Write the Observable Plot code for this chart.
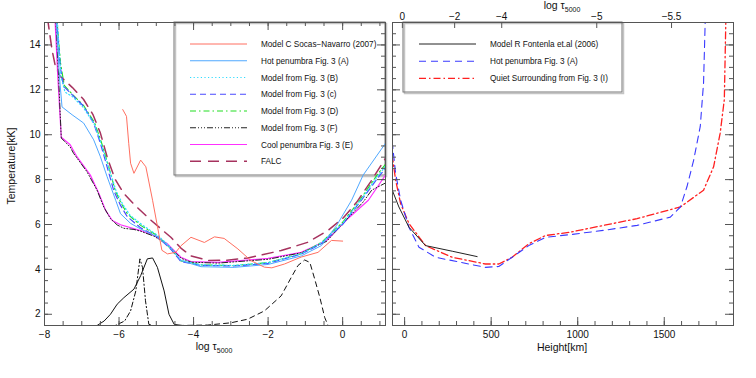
<!DOCTYPE html>
<html><head><meta charset="utf-8">
<script src="https://cdn.jsdelivr.net/npm/d3@7"></script>
<script src="https://cdn.jsdelivr.net/npm/@observablehq/plot@0.6"></script>
<style>
body{margin:0;background:#fff;font-family:"Liberation Sans",Arial,sans-serif}
#wrap{position:relative;width:756px;height:378px;overflow:hidden;background:#fff}
#wrap > svg{position:absolute;top:0}
</style></head><body><div id="wrap"></div>
<script>
// ---------- LEFT PANEL DATA (x = log tau5000, y = T [kK]) ----------
const socasX = [-5.90,-5.80,-5.74,-5.69,-5.60,-5.42,-5.28,-5.10,-4.85,-4.70,-4.48,-4.34,-4.07,-3.71,-3.44,-3.18,-2.81,-2.46,-2.10,-1.90,-1.56,-1.11,-0.66,-0.30,0.0];
const socasT = [11.12,10.82,9.62,8.73,8.28,8.87,8.57,7.08,4.85,4.69,4.76,5.05,5.43,5.20,5.45,5.38,4.91,4.39,4.10,4.07,4.24,4.55,4.76,5.29,5.26];

const hotAX = [-7.69,-7.60,-7.53,-7.26,-6.95,-6.68,-6.50,-6.32,-6.09,-5.96,-5.69,-5.42,-4.97,-4.61,-4.34,-3.80,-2.91,-2.0,-1.11,-0.57,-0.16,0.24,0.55,1.18];
const hotAT = [15.2,12.6,11.24,10.89,10.52,9.77,9.02,8.13,7.08,6.48,6.05,5.80,5.45,4.95,4.39,4.12,4.09,4.22,4.60,5.06,5.96,7.08,8.20,9.69];

const modBX = [-7.66,-7.56,-7.45,-7.25,-6.95,-6.66,-6.48,-6.28,-6.08,-5.90,-5.70,-5.35,-4.95,-4.60,-4.34,-3.80,-2.91,-2.0,-1.11,-0.57,0.0,0.48,0.96,1.18];
const modBT = [15.2,12.6,11.9,11.7,11.2,10.45,9.6,8.55,7.5,6.9,6.4,5.95,5.5,4.95,4.4,4.2,4.18,4.3,4.7,5.18,6.05,7.08,8.2,8.65];

const modCX = [-7.68,-7.58,-7.49,-7.31,-6.95,-6.68,-6.50,-6.32,-6.14,-5.96,-5.78,-5.42,-4.97,-4.61,-4.34,-3.80,-2.91,-2.0,-1.11,-0.57,0.0,0.5,1.0,1.18];
const modCT = [15.2,13.06,12.16,11.87,11.27,10.52,9.62,8.57,7.5,6.85,6.35,5.85,5.45,4.9,4.35,4.18,4.15,4.27,4.68,5.15,6.0,7.08,8.2,8.55];

const modDX = [-7.67,-7.57,-7.47,-7.28,-6.95,-6.66,-6.48,-6.28,-6.10,-5.96,-5.78,-5.42,-4.97,-4.61,-4.34,-3.80,-2.91,-2.0,-1.11,-0.57,0.0,0.46,0.92,1.18];
const modDT = [15.2,13.2,12.2,11.85,11.3,10.55,9.7,8.6,7.5,7.0,6.48,5.96,5.5,4.92,4.38,4.2,4.17,4.3,4.7,5.2,6.1,7.08,8.2,8.75];

const modFX = [-7.70,-7.62,-7.55,-7.31,-7.22,-6.86,-6.59,-6.41,-6.23,-6.05,-5.87,-5.60,-5.42,-5.06,-4.70,-4.34,-4.07,-3.35,-2.0,-1.11,-0.43,0.15,0.55,0.78,1.15];
const modFT = [15.2,12.5,9.85,9.45,9.17,8.35,7.53,6.78,6.26,5.98,5.83,5.78,5.70,5.48,5.10,4.50,4.32,4.28,4.45,4.74,5.25,6.30,7.00,7.53,7.85];

const coolEX = [-7.72,-7.64,-7.55,-7.31,-7.13,-6.77,-6.54,-6.36,-6.18,-5.96,-5.42,-5.06,-4.70,-4.34,-4.07,-3.35,-2.0,-1.11,-0.43,0.10,0.69,1.18];
const coolET = [15.2,12.5,9.89,9.55,9.02,8.2,7.38,6.63,6.18,5.99,5.73,5.51,5.14,4.54,4.35,4.31,4.49,4.76,5.29,6.2,7.08,8.28];

const falcX = [-7.92,-7.80,-7.71,-7.58,-7.25,-6.95,-6.70,-6.50,-6.30,-6.10,-5.87,-5.60,-5.15,-4.61,-4.34,-4.07,-3.62,-3.10,-2.54,-1.65,-0.93,-0.39,0.02,0.38,0.75,1.15];
const falcT = [15.2,13.8,13.06,12.61,12.1,11.57,10.9,10.07,8.9,8.0,7.38,6.9,6.2,5.43,4.95,4.6,4.4,4.41,4.51,4.84,5.21,5.74,6.3,7.0,7.9,8.95];

// contribution / response functions (scaled), drawn at the bottom
const respSolidX = [-7.0,-6.59,-6.40,-6.23,-6.05,-5.87,-5.60,-5.42,-5.24,-5.10,-4.97,-4.79,-4.66,-4.52,-4.30,-3.9];
const respSolidT = [1.5,1.5,1.7,2.0,2.45,2.74,3.12,3.72,4.47,4.51,4.09,3.04,2.0,1.55,1.5,1.5];
const respDashDotX = [-6.3,-6.10,-5.85,-5.69,-5.55,-5.44,-5.37,-5.29,-5.20,-5.10];
const respDashDotT = [1.5,1.5,1.7,2.15,3.04,4.47,4.09,2.6,1.55,1.5];
const respDashX = [-4.4,-3.62,-3.0,-2.55,-2.10,-1.65,-1.38,-1.20,-1.02,-0.88,-0.75,-0.61,-0.48,-0.39];
const respDashT = [1.5,1.52,1.62,1.78,2.15,2.82,3.64,4.17,4.42,4.31,3.57,2.74,1.85,1.5];

// ---------- RIGHT PANEL DATA (x = height km, y = T [kK]) ----------
const fontH = [-75,-33,25,121,275,419];
const fontT = [7.6,6.78,5.88,5.06,4.81,4.57];
const hotRH = [-72,-52,-23,25,83,179,371,467,544,621,717,814,958,1150,1343,1535,1593,1631,1670,1708,1727,1737];
const hotRT = [9.7,8.28,7.08,5.88,4.99,4.54,4.24,4.09,4.13,4.54,5.06,5.43,5.55,5.74,5.96,6.33,6.78,7.68,8.87,10.37,12.31,15.2];
const quietH = [-72,-52,-23,25,121,275,467,544,621,717,814,958,1150,1343,1593,1727,1785,1823,1847,1856];
const quietT = [9.1,7.98,6.93,6.04,5.06,4.54,4.24,4.24,4.54,5.14,5.51,5.66,5.96,6.26,6.78,7.53,8.57,10.07,11.57,15.2];

// ---------- TICKS / LABELS ----------
const leftXMajor = [-8,-6,-4,-2,0];
const leftXMinor = d3.range(-8, 1.01, 0.5);
const yMajor = [2,4,6,8,10,12,14];
const yMinor = d3.range(1.5, 15.01, 0.5);
const rightXMajor = [0,500,1000,1500];
const rightXMinor = d3.range(0, 1901, 100);
const tauTickH = [-13,289,561,1110,1542];
const tauTickLabels = ["0","\u22122","\u22124","\u22125","\u22125.5"];

const legendLeft = [
  "Model C Socas\u2212Navarro (2007)","Hot penumbra Fig. 3 (A)","Model from Fig. 3 (B)",
  "Model from Fig. 3 (c)","Model from Fig. 3 (D)","Model from Fig. 3 (F)",
  "Cool penumbra Fig. 3 (E)","FALC"];
const legendRight = ["Model R Fontenla et.al (2006)","Hot penumbra Fig. 3 (A)","Quiet Surrounding from Fig. 3 (I)"];

// styles
const stLeft = [
  {stroke:"#ff6f60", w:1, dash:null},
  {stroke:"#4fa8ff", w:1, dash:null},
  {stroke:"#30dcff", w:1.2, dash:"1.2,2.4"},
  {stroke:"#4a4aff", w:1.2, dash:"6,4"},
  {stroke:"#22dd22", w:1.1, dash:"6,3,1.5,3"},
  {stroke:"#222", w:1, dash:"6,2,1,2,1,2,1,2"},
  {stroke:"#ff30ff", w:1.2, dash:null},
  {stroke:"#a6325e", w:1.5, dash:"11,7"}
];
const stRight = [
  {stroke:"#222", w:1, dash:null},
  {stroke:"#3a3aff", w:1.1, dash:"7,5"},
  {stroke:"#ff2020", w:1.3, dash:"7,3,1.5,3"}
];

const seriesLeft = [[socasX,socasT],[hotAX,hotAT],[modBX,modBT],[modCX,modCT],[modDX,modDT],[modFX,modFT],[coolEX,coolET],[falcX,falcT]];
const seriesRight = [[fontH,fontT],[hotRH,hotRT],[quietH,quietT]];
const toPts = (xs, ys) => xs.map((x, i) => ({x, y: ys[i]}));

const W = 756, H = 378, MT = 22, MB = 53;
const PH = H - MT - MB; // plot area height
const fmt = d => (d < 0 ? "\u2212" : "") + String(Math.abs(d));
const FONT = "Liberation Sans, Arial, sans-serif";
const frameColor = "#555";

function lineMark(pts, s) {
  return Plot.line(pts, {x:"x", y:"y", stroke:s.stroke, strokeWidth:s.w, strokeDasharray:s.dash, clip:true, curve:"linear"});
}

const wrap = document.getElementById("wrap");

// ---------- legends (drawn first, underneath the curves, no fill) ----------
const leg = d3.select(wrap).append("svg").attr("width", W).attr("height", H)
  .style("position", "absolute").style("left", "0px").style("top", "0px");
function drawLegend(box, labels, styles, lx0, lx1, tx, y0, dy) {
  leg.append("rect").attr("x", box[0] + 1.5).attr("y", box[1] + 1.5).attr("width", box[2]).attr("height", box[3])
    .attr("fill", "none").attr("stroke", "#c4c4c4").attr("stroke-width", 1.5);
  leg.append("rect").attr("x", box[0]).attr("y", box[1]).attr("width", box[2]).attr("height", box[3])
    .attr("fill", "none").attr("stroke", "#777").attr("stroke-width", 1);
  labels.forEach((lab, i) => {
    const y = y0 + i * dy;
    const s = styles[i];
    leg.append("line").attr("x1", lx0).attr("x2", lx1).attr("y1", y).attr("y2", y)
      .attr("stroke", s.stroke).attr("stroke-width", s.w).attr("stroke-dasharray", s.dash);
    leg.append("text").attr("x", tx).attr("y", y + 3).attr("font-family", FONT).attr("font-size", 8.2)
      .attr("fill", "#111").text(lab);
  });
}
drawLegend([174, 22, 211, 153], legendLeft, stLeft, 190, 247, 261, 44, 16.75);
drawLegend([403, 22, 219, 70], legendRight, stRight, 419, 476, 490, 44, 17.2);

// ---------- LEFT PLOT ----------
const LW = 388, LML = 44, LMR = 3, LPW = LW - LML - LMR;
const left = Plot.plot({
  width: LW, height: H, marginLeft: LML, marginRight: LMR, marginTop: MT, marginBottom: MB,
  style: {fontFamily: FONT, fontSize: "10px", background: "transparent", color: "#111", overflow: "visible"},
  x: {domain: [-8, 1.15], label: null, axis: null},
  y: {domain: [1.5, 15], label: null, axis: null},
  marks: [
    lineMark(toPts(respSolidX, respSolidT), {stroke:"#111", w:1, dash:null}),
    lineMark(toPts(respDashDotX, respDashDotT), {stroke:"#111", w:1, dash:"5,2.5,1.2,2.5"}),
    lineMark(toPts(respDashX, respDashT), {stroke:"#111", w:1, dash:"5,4"}),
    ...seriesLeft.map(([xs, ys], i) => lineMark(toPts(xs, ys), stLeft[i])).reverse(),
    Plot.ruleX(leftXMinor, {x: d => d, stroke: frameColor, insetTop: PH - 4}),
    Plot.ruleX(leftXMajor, {x: d => d, stroke: frameColor, insetTop: PH - 8}),
    Plot.ruleX(leftXMinor, {x: d => d, stroke: frameColor, insetBottom: PH - 4}),
    Plot.ruleX(leftXMajor, {x: d => d, stroke: frameColor, insetBottom: PH - 8}),
    Plot.ruleY(yMinor, {y: d => d, stroke: frameColor, insetRight: LPW - 4}),
    Plot.ruleY(yMajor, {y: d => d, stroke: frameColor, insetRight: LPW - 8}),
    Plot.ruleY(yMinor, {y: d => d, stroke: frameColor, insetLeft: LPW - 4}),
    Plot.ruleY(yMajor, {y: d => d, stroke: frameColor, insetLeft: LPW - 8}),
    Plot.axisX(leftXMajor, {anchor: "bottom", tickSize: 0, tickPadding: 5, tickFormat: fmt, label: null, fontSize: 10}),
    Plot.axisY(yMajor, {anchor: "left", tickSize: 0, tickPadding: 4, tickFormat: d => String(d), label: null, fontSize: 10}),
    Plot.frame({stroke: frameColor})
  ]
});

// ---------- RIGHT PLOT ----------
const RW = 368, RML = 4, RMR = 23, RPW = RW - RML - RMR;
const right = Plot.plot({
  width: RW, height: H, marginLeft: RML, marginRight: RMR, marginTop: MT, marginBottom: MB,
  style: {fontFamily: FONT, fontSize: "10px", background: "transparent", color: "#111", overflow: "visible"},
  x: {domain: [-70, 1900], label: null, axis: null},
  y: {domain: [1.5, 15], label: null, axis: null},
  marks: [
    ...seriesRight.map(([xs, ys], i) => lineMark(toPts(xs, ys), stRight[i])).reverse(),
    Plot.ruleX(rightXMinor, {x: d => d, stroke: frameColor, insetTop: PH - 4}),
    Plot.ruleX(rightXMajor, {x: d => d, stroke: frameColor, insetTop: PH - 8}),
    Plot.ruleX(tauTickH, {x: d => d, stroke: frameColor, insetBottom: PH - 6}),
    Plot.ruleY(yMinor, {y: d => d, stroke: frameColor, insetRight: RPW - 4}),
    Plot.ruleY(yMajor, {y: d => d, stroke: frameColor, insetRight: RPW - 8}),
    Plot.ruleY(yMinor, {y: d => d, stroke: frameColor, insetLeft: RPW - 4}),
    Plot.ruleY(yMajor, {y: d => d, stroke: frameColor, insetLeft: RPW - 8}),
    Plot.axisX(rightXMajor, {anchor: "bottom", tickSize: 0, tickPadding: 5, tickFormat: d => String(d), label: null, fontSize: 10}),
    Plot.axisX(tauTickH, {anchor: "top", tickSize: 0, tickPadding: 3, tickFormat: (d, i) => tauTickLabels[i], label: null, fontSize: 10}),
    Plot.frame({stroke: frameColor})
  ]
});

left.style.left = "0px";
right.style.left = LW + "px";
wrap.appendChild(left);
wrap.appendChild(right);

// ---------- axis titles (with subscripts) ----------
function logTau(svg, x, y) {
  const t = d3.select(svg).append("text").attr("x", x).attr("y", y)
    .attr("text-anchor", "middle").attr("font-family", FONT).attr("font-size", 10.5).attr("fill", "#111");
  t.append("tspan").text("log \u03c4");
  t.append("tspan").text("5000").attr("font-size", 7).attr("dy", 3);
}
logTau(left, 214, 350);
logTau(right, 562 - LW, 9);
d3.select(right).append("text").attr("x", 562 - LW).attr("y", 351).attr("text-anchor", "middle")
  .attr("font-family", FONT).attr("font-size", 10.5).attr("fill", "#111").text("Height[km]");
d3.select(left).append("text").attr("transform", "translate(15,166) rotate(-90)").attr("text-anchor", "middle")
  .attr("font-family", FONT).attr("font-size", 10.5).attr("fill", "#111").text("Temperature[kK]");
</script></body></html>
